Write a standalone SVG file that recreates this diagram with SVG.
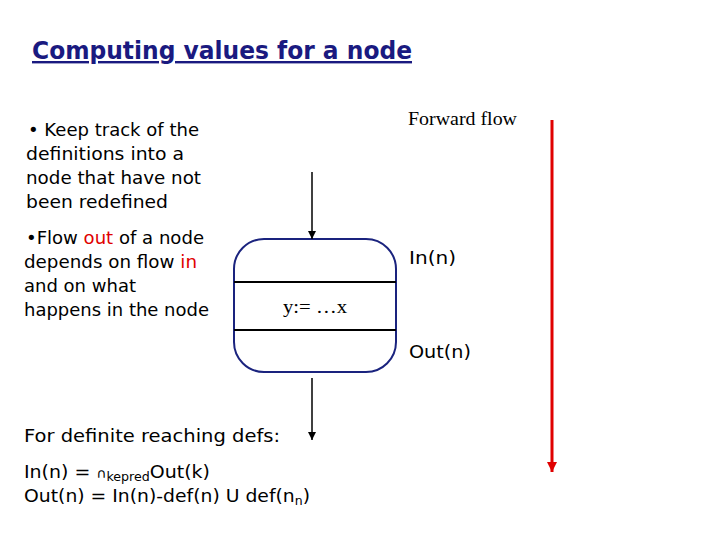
<svg xmlns="http://www.w3.org/2000/svg" width="720" height="540" viewBox="0 0 720 540">
<style>
.t{font-family:"DejaVu Sans","Noto Sans",sans-serif;font-size:18px;fill:#000}
.s{font-family:"Liberation Serif","DejaVu Serif",serif;font-size:19px;fill:#000}
.title{font-family:"DejaVu Sans",sans-serif;font-size:24px;font-weight:bold;fill:#1a1a80;text-decoration:underline}
.red{fill:#e00000}
.ln{stroke:#000;stroke-width:1.5;fill:none}
</style>
<defs>
<marker id="ah" viewBox="0 0 10 10" refX="10" refY="5" markerWidth="8" markerHeight="8" markerUnits="userSpaceOnUse" orient="auto"><path d="M0,0 L10,5 L0,10 z" fill="#000"/></marker>
<marker id="ahr" viewBox="0 0 10 10" refX="10" refY="5" markerWidth="10" markerHeight="10" markerUnits="userSpaceOnUse" orient="auto"><path d="M0,0 L10,5 L0,10 z" fill="#e00000"/></marker>
</defs>
<rect width="720" height="540" fill="#fff"/>
<text class="title" x="32" y="59" textLength="380" lengthAdjust="spacingAndGlyphs">Computing values for a node</text>
<g id="text-left">
<text class="t" x="28" y="136" textLength="171" lengthAdjust="spacingAndGlyphs">• Keep track of the</text>
<text class="t" x="26" y="160" textLength="158" lengthAdjust="spacingAndGlyphs">definitions into a</text>
<text class="t" x="26" y="184" textLength="175" lengthAdjust="spacingAndGlyphs">node that have not</text>
<text class="t" x="26" y="208" textLength="142" lengthAdjust="spacingAndGlyphs">been redefined</text>
<text class="t" x="26" y="244" textLength="178" lengthAdjust="spacingAndGlyphs">•Flow <tspan class="red">out</tspan> of a node</text>
<text class="t" x="24" y="268" textLength="173" lengthAdjust="spacingAndGlyphs">depends on flow <tspan class="red">in</tspan></text>
<text class="t" x="24" y="292" textLength="112" lengthAdjust="spacingAndGlyphs">and on what</text>
<text class="t" x="24" y="316" textLength="185" lengthAdjust="spacingAndGlyphs">happens in the node</text>
</g>
<g id="node">
<rect x="234" y="239" width="162" height="133" rx="30" ry="30" fill="none" stroke="#1a237e" stroke-width="2"/>
<line x1="234" y1="282" x2="396" y2="282" stroke="#000" stroke-width="2"/>
<line x1="234" y1="330" x2="396" y2="330" stroke="#000" stroke-width="2"/>
<text class="s" x="283" y="313" font-size="19" textLength="64" lengthAdjust="spacingAndGlyphs">y:= …x</text>
</g>
<g id="connectors">
<line class="ln" x1="312" y1="172" x2="312" y2="239" marker-end="url(#ah)"/>
<line class="ln" x1="312" y1="378" x2="312" y2="440" marker-end="url(#ah)"/>
<line x1="552" y1="120" x2="552" y2="472" stroke="#e00000" stroke-width="3" marker-end="url(#ahr)"/>
</g>
<g id="labels">
<text class="s" x="408" y="125" textLength="109" lengthAdjust="spacingAndGlyphs">Forward flow</text>
<text class="t" x="409" y="264" textLength="47" lengthAdjust="spacingAndGlyphs">In(n)</text>
<text class="t" x="409" y="358" textLength="62" lengthAdjust="spacingAndGlyphs">Out(n)</text>
<text class="t" x="24" y="442" textLength="256" lengthAdjust="spacingAndGlyphs">For definite reaching defs:</text>
<text class="t" x="24" y="478" textLength="186" lengthAdjust="spacingAndGlyphs">In(n) = <tspan font-size="13">∩</tspan><tspan font-size="12" dy="3">kepred</tspan><tspan dy="-3">Out(k)</tspan></text>
<text class="t" x="24" y="502" textLength="286" lengthAdjust="spacingAndGlyphs">Out(n) = In(n)-def(n) U def(n<tspan font-size="12" dy="3">n</tspan><tspan dy="-3">)</tspan></text>
</g>
</svg>
